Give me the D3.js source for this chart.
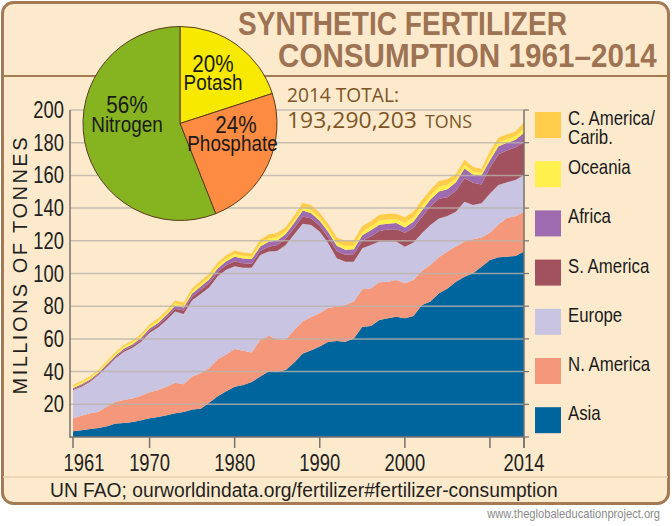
<!DOCTYPE html>
<html><head><meta charset="utf-8">
<script src="https://cdn.jsdelivr.net/npm/d3@7/dist/d3.min.js"></script>
<style>
body{margin:0;background:#fff}
svg{display:block}
</style>
</head><body>
<svg id="c" width="672" height="526"></svg>
<script>
// ---------------- DATA ----------------
const years = d3.range(1961, 2015);
const regions = ["Asia","N. America","Europe","S. America","Africa","Oceania","C. America/Carib."];
const asia = [3.5,4.2,4.9,5.5,6.5,8.3,8.6,9.2,10.3,11.4, 12.2,13.3,14.5,15.3,16.8,17.3,21.0,25.0,28.0,30.8, 31.8,33.6,37.0,40.0,40.0,41.0,45.5,51.0,53.0,55.3, 58.3,58.7,58.3,60.3,67.5,67.9,71.6,72.6,73.6,72.6, 74.0,80.7,82.8,87.9,90.9,95.0,98.0,100.1,104.2,108.3, 110.0,110.3,110.7,113.4];
const nAmerica = [7.9,8.8,9.6,10.0,12.1,13.3,14.0,14.4,15.0,15.9, 16.5,17.5,18.7,16.9,20.2,21.7,21.0,22.5,22.5,23.0, 21.0,18.1,22.3,22.0,19.7,18.7,19.9,19.8,20.4,20.5, 20.7,21.0,22.4,22.5,22.8,23.0,23.0,22.4,22.4,21.4, 22.0,21.0,22.4,22.0,22.6,21.5,21.5,20.9,17.8,16.7, 20.0,23.7,24.3,24.4];
const europe = [17.3,17.8,19.3,22.4,24.4,26.5,29.6,31.0,33.0,36.5, 38.3,40.8,43.5,43.0,46.6,48.5,49.5,50.8,51.8,50.7, 50.7,51.8,52.0,51.4,54.1,57.7,58.6,59.7,56.3,49.8, 39.5,29.6,26.5,24.4,25.1,26.5,24.9,24.5,23.5,22.4, 22.9,22.9,24.5,23.8,21.7,21.3,24.4,20.9,20.9,24.0, 24.1,21.8,22.2,22.4];
const sAmerica = [0.7,0.7,0.7,0.7,0.8,0.8,0.9,1.0,1.1,1.2, 1.4,1.6,1.8,2.1,2.2,2.4,2.6,2.4,2.7,3.0, 2.8,2.5,2.5,3.0,3.6,3.8,3.9,4.4,4.0,3.5, 3.5,4.5,4.3,4.5,4.6,5.3,6.5,7.4,7.6,8.6, 8.9,10.0,11.5,12.0,11.5,12.8,14.3,13.6,11.5,15.8, 18.8,19.5,19.8,20.4];
const africa = [0.6,0.7,0.7,0.7,0.8,0.9,1.0,1.1,1.2,1.3, 1.4,1.5,1.7,1.9,2.0,2.1,2.3,2.4,2.5,2.8, 2.9,2.8,2.7,3.0,2.8,3.0,3.1,3.6,3.2,3.1, 3.4,3.1,3.1,3.1,3.4,3.7,3.8,3.6,3.8,3.2, 3.8,4.0,4.1,4.4,4.8,5.2,6.0,5.0,5.5,4.4, 5.0,4.6,4.8,5.5];
const oceania = [1.0,1.1,1.0,1.0,1.1,1.2,1.2,1.2,1.2,1.3, 1.3,1.3,1.5,1.3,1.4,1.5,1.5,1.6,1.6,1.6, 1.6,1.5,1.7,2.0,1.9,1.8,1.8,1.9,1.9,1.8, 1.8,1.9,2.2,2.2,2.3,2.3,2.6,2.6,2.5,2.8, 2.7,2.7,2.6,2.9,2.8,2.2,2.3,2.0,1.7,2.4, 2.2,2.3,2.1,2.5];
const cAmerica = [0.8,0.9,0.9,0.9,0.9,1.0,1.1,1.1,1.2,1.4, 1.4,1.5,1.8,1.7,1.8,1.9,2.0,2.1,2.1,2.1, 2.1,2.1,2.4,2.6,2.7,2.5,2.6,2.8,2.9,3.0, 3.0,3.2,3.3,3.3,3.3,3.3,3.5,3.5,3.2,3.4, 3.4,3.5,3.4,3.6,3.4,2.8,3.1,2.8,2.3,3.4, 2.9,3.0,2.9,3.7];
const regionColors = ["#00659d","#f4977b","#c8c4e1","#a1525e","#9e6bb0","#fff04e","#ffcd4a"];
const yTicks = [20,40,60,80,100,120,140,160,180,200];
const xTickYears = [1961,1970,1980,1990,2000,2010,2014];
const xLabelYears = [1961,1970,1980,1990,2000,2014];
const pieLabels = ["Potash","Phosphate","Nitrogen"];
const pieShares = [20,24,56];
const pieColors = ["#f7e900","#fd8b41","#86b421"];
const titleLines = ["SYNTHETIC FERTILIZER","CONSUMPTION 1961\u20132014"];
const totalLabel = "2014 TOTAL:";
const totalValue = "193,290,203";
const totalUnit = "TONS";
const yTitle = "MILLIONS OF TONNES";
const sourceText = "UN FAO; ourworldindata.org/fertilizer#fertilizer-consumption";
const siteText = "www.theglobaleducationproject.org";

// ---------------- DRAW ----------------
const SANS = "'Liberation Sans',Arial,sans-serif";
const OPEN = "'Open Sans','Liberation Sans',sans-serif";
const BROWN = "#a47a55";
const svg = d3.select("#c");
// narrow a text horizontally (factor, or to a target width) with a scale transform
function condense(sel, f, target){
  sel.each(function(){
    const t = d3.select(this);
    const x0 = +t.attr("x") || 0, y0 = +t.attr("y") || 0;
    const L = this.getComputedTextLength();
    const s = target ? target / L : f;
    t.attr("x",0).attr("y",0).attr("transform",`translate(${x0},${y0}) scale(${s},1)`);
  });
  return sel;
}

svg.append("rect").attr("x",2.5).attr("y",2.5).attr("width",666).attr("height",501)
  .attr("rx",11).attr("fill","#fdeacd").attr("stroke",BROWN).attr("stroke-width",3);
svg.append("line").attr("x1",3).attr("x2",668).attr("y1",76).attr("y2",76)
  .attr("stroke",BROWN).attr("stroke-width",2);
svg.append("line").attr("x1",3).attr("x2",668).attr("y1",477).attr("y2",477)
  .attr("stroke","#e6cfae").attr("stroke-width",1.5);

const x = d3.scaleLinear().domain([1961,2014]).range([73,524]);
const y = d3.scaleLinear().domain([0,200]).range([437,110]);

const series = [asia,nAmerica,europe,sAmerica,africa,oceania,cAmerica];
const rows = years.map((yr,i)=>{const r={year:yr}; regions.forEach((k,j)=>r[k]=series[j][i]); return r;});
const stacked = d3.stack().keys(regions)(rows);
const area = d3.area().x(d=>x(d.data.year)).y0(d=>y(d[0])).y1(d=>y(d[1]));
svg.append("g").selectAll("path").data(stacked).join("path")
  .attr("d",area).attr("fill",(d,i)=>regionColors[i]);

// gridlines on top of areas
svg.append("g").selectAll("line").data(yTicks).join("line")
  .attr("x1",70).attr("x2",524).attr("y1",d=>y(d)).attr("y2",d=>y(d))
  .attr("stroke","#b9b3aa").attr("stroke-opacity",0.8).attr("stroke-width",1.5);

// axes
const axisCol = "#77726c";
svg.append("line").attr("x1",70).attr("x2",70).attr("y1",y(200)).attr("y2",y(0)+1).attr("stroke",axisCol).attr("stroke-width",1.5);
svg.append("line").attr("x1",70).attr("x2",524).attr("y1",y(0)).attr("y2",y(0)).attr("stroke",axisCol).attr("stroke-width",1.5);
svg.append("line").attr("x1",524).attr("x2",524).attr("y1",y(200)).attr("y2",y(0)+11).attr("stroke",axisCol).attr("stroke-width",1.5);
svg.append("g").selectAll("line").data(yTicks.concat([0])).join("line")
  .attr("x1",524).attr("x2",529).attr("y1",d=>y(d)).attr("y2",d=>y(d)).attr("stroke",axisCol).attr("stroke-width",1.2);
svg.append("g").selectAll("line").data(xTickYears).join("line")
  .attr("x1",d=>x(d)).attr("x2",d=>x(d)).attr("y1",y(0)).attr("y2",y(0)+11).attr("stroke",axisCol).attr("stroke-width",1.5);

condense(svg.append("g").selectAll("text").data(yTicks).join("text")
  .attr("x",64).attr("y",d=>y(d)+8).attr("text-anchor","end")
  .attr("font-family",SANS).attr("font-size",23).attr("fill","#231f20").text(d=>d), 0.8);
condense(svg.append("g").selectAll("text").data(xLabelYears).join("text")
  .attr("x",d=>x(d)+(d===1961?11:0)).attr("y",471).attr("text-anchor","middle")
  .attr("font-family",SANS).attr("font-size",23).attr("fill","#231f20").text(d=>d), 0.8);

svg.append("text").attr("transform","translate(27,266) rotate(-90)").attr("text-anchor","middle")
  .attr("font-family",SANS).attr("font-size",20).attr("fill","#231f20")
  .attr("textLength",257).attr("lengthAdjust","spacing").text(yTitle);

// title
const titleX = [[238,329],[278,379]];
svg.append("g").selectAll("text").data(titleLines).join("text")
  .attr("x",(d,i)=>titleX[i][0]).attr("y",(d,i)=>[35,67][i])
  .attr("font-family",SANS).attr("font-weight","bold").attr("font-size",32.5)
  .attr("fill","#9d7353").text(d=>d)
  .each(function(d,i){ condense(d3.select(this), null, titleX[i][1]); });

// total
const TOT = "#7c5424";
condense(svg.append("text").attr("x",287).attr("y",102).attr("font-family",OPEN).attr("font-size",20)
  .attr("fill",TOT).text(totalLabel), null, 112);
condense(svg.append("text").attr("x",287).attr("y",128).attr("font-family",OPEN).attr("font-size",22)
  .attr("fill",TOT).text(totalValue), null, 130);
condense(svg.append("text").attr("x",425).attr("y",128).attr("font-family",OPEN).attr("font-size",18.5)
  .attr("fill",TOT).text(totalUnit), null, 47);

// pie
const pieG = svg.append("g").attr("transform","translate(180,123.5)");
const arcs = d3.pie().sort(null).value(d=>d)(pieShares);
const arcGen = d3.arc().innerRadius(0).outerRadius(97);
pieG.selectAll("path").data(arcs).join("path").attr("d",arcGen)
  .attr("fill",(d,i)=>pieColors[i]).attr("stroke","#5b3b1c").attr("stroke-width",1);
const pieLabelPos = [[33,-52],[56,9],[-53,-10.5]]; // x centre, pct baseline
const pieTexts = pieG.selectAll("text.lbl").data(arcs).join("text").attr("class","lbl")
  .attr("x",(d,i)=>pieLabelPos[i][0]).attr("y",(d,i)=>pieLabelPos[i][1]).attr("text-anchor","middle")
  .attr("font-family",SANS).attr("fill","#1a1a1a");
pieTexts.append("tspan").attr("x",0).attr("font-size",23.5).text((d,i)=>pieShares[i]+"%");
pieTexts.append("tspan").attr("x",(d,i)=>i===1?-4:0).attr("dy",18.5).attr("font-size",21.5).text((d,i)=>pieLabels[i]);
pieTexts.each(function(d,i){
  const t = d3.select(this);
  t.attr("transform",`translate(${pieLabelPos[i][0]},${pieLabelPos[i][1]}) scale(0.88,1)`).attr("x",null).attr("y",null);
});

// legend
const legendOrder = d3.range(regions.length).reverse();
const lg = svg.append("g").selectAll("g").data(legendOrder).join("g")
  .attr("transform",(d,i)=>`translate(535,${112+i*49.2})`);
lg.append("rect").attr("width",26).attr("height",26).attr("fill",d=>regionColors[d]);
lg.each(function(d){
  const parts = regions[d].includes("/") ? [regions[d].split("/")[0]+"/", regions[d].split("/")[1]] : [regions[d]];
  const t = d3.select(this).append("text").attr("transform","translate(33,13) scale(0.82,1)")
    .attr("font-family",SANS).attr("font-size",20.5).attr("fill","#1a1a1a");
  t.selectAll("tspan").data(parts).join("tspan").attr("x",0).attr("dy",(p,k)=>k===0?0:19).text(p=>p);
});

// footer
condense(svg.append("text").attr("x",50).attr("y",497).attr("font-family",SANS).attr("font-size",20)
  .attr("fill","#231f20").text(sourceText), null, 508);
condense(svg.append("text").attr("x",660).attr("y",518).attr("text-anchor","end").attr("font-family",SANS)
  .attr("font-size",12.5).attr("fill","#8a8a8a").text(siteText), null, 173);
</script>
</body></html>
